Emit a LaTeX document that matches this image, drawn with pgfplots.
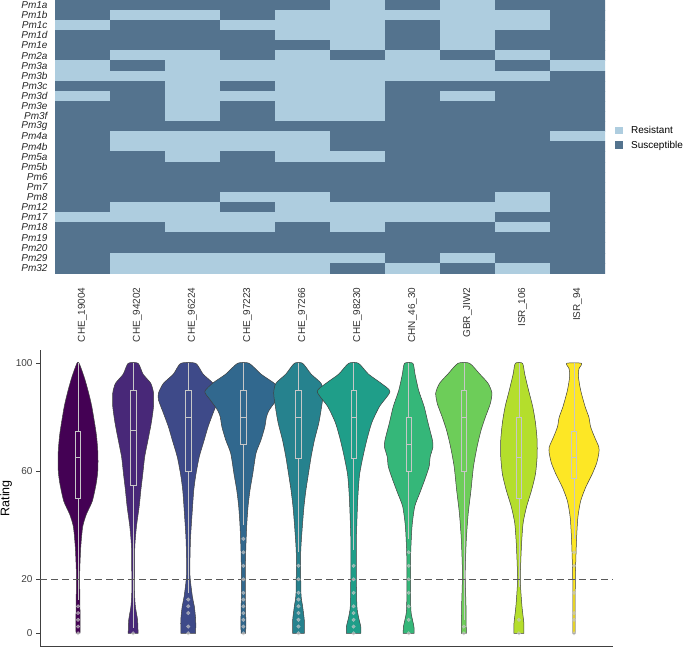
\documentclass[border=0pt]{standalone}
\usepackage{fontspec}
\setmainfont{Liberation Sans}
\setsansfont{Liberation Sans}
\usepackage{pgfplots}
\pgfplotsset{compat=1.18}
\usepackage{pgfplotstable}

\definecolor{res}{RGB}{174,205,223}
\definecolor{sus}{RGB}{84,115,142}
\definecolor{v1}{RGB}{68,1,84}
\definecolor{v2}{RGB}{72,40,120}
\definecolor{v3}{RGB}{62,74,137}
\definecolor{v4}{RGB}{49,104,142}
\definecolor{v5}{RGB}{38,130,142}
\definecolor{v6}{RGB}{31,158,137}
\definecolor{v7}{RGB}{53,183,121}
\definecolor{v8}{RGB}{109,205,89}
\definecolor{v9}{RGB}{180,222,44}
\definecolor{v10}{RGB}{253,231,37}

% violin outlines: rating y, signed half-width d (right side up, left side down)
\pgfplotstableread{
y d
0 0.035
2.5 0.04
10 0.035
22 0.03
32 0.05
39.5 0.085
44 0.15
49 0.26
55.5 0.33
60.5 0.36
67 0.36
74 0.33
84 0.25
90 0.18
95 0.11
100 0.02
100 -0.02
95 -0.11
90 -0.18
84 -0.25
74 -0.33
67 -0.36
60.5 -0.36
55.5 -0.33
49 -0.26
44 -0.15
39.5 -0.085
32 -0.05
22 -0.03
10 -0.035
2.5 -0.04
0 -0.035
}\vA
\pgfplotstableread{
y d
0 0.09
5 0.08
10 0.04
15 0.025
22 0.025
32 0.03
39.5 0.06
47 0.11
53 0.14
59 0.175
65.4 0.21
71.6 0.27
78 0.33
84 0.37
89 0.37
92.6 0.32
96 0.18
100 0.09
100 -0.09
96 -0.18
92.6 -0.32
89 -0.37
84 -0.37
78 -0.33
71.6 -0.27
65.4 -0.21
59 -0.175
53 -0.14
47 -0.11
39.5 -0.06
32 -0.03
22 -0.025
15 -0.025
10 -0.04
5 -0.08
0 -0.09
}\vB
\pgfplotstableread{
y d
0 0.135
5 0.135
10 0.11
13.6 0.075
22 0.03
34.6 0.04
44.4 0.07
53 0.1
59 0.14
65.4 0.2
71.6 0.29
76.5 0.36
81.5 0.45
86.4 0.54
89 0.54
92.6 0.45
96 0.27
100 0.135
100 -0.135
96 -0.27
92.6 -0.45
89 -0.54
86.4 -0.54
81.5 -0.45
76.5 -0.36
71.6 -0.29
65.4 -0.2
59 -0.14
53 -0.1
44.4 -0.07
34.6 -0.04
22 -0.03
13.6 -0.075
10 -0.11
5 -0.135
0 -0.135
}\vC
\pgfplotstableread{
y d
0 0.04
3.7 0.045
16 0.035
28.4 0.04
39.5 0.06
47 0.085
53 0.12
59 0.17
66.7 0.23
71.6 0.32
76.5 0.39
80.2 0.42
82.7 0.47
86.4 0.6
89.5 0.68
92.6 0.56
96 0.32
100 0.105
100 -0.105
96 -0.32
92.6 -0.56
89.5 -0.7
86.4 -0.6
82.7 -0.47
80.2 -0.42
76.5 -0.39
71.6 -0.32
66.7 -0.23
59 -0.17
53 -0.12
47 -0.085
39.5 -0.06
28.4 -0.04
16 -0.035
3.7 -0.045
0 -0.04
}\vD
\pgfplotstableread{
y d
0 0.105
5 0.105
10 0.075
14.8 0.045
29.6 0.04
39.5 0.07
47 0.1
53 0.135
59 0.18
65.4 0.23
71.6 0.29
78 0.37
84 0.42
89 0.45
92.6 0.41
96 0.23
100 0.075
100 -0.075
96 -0.23
92.6 -0.41
89 -0.45
84 -0.42
78 -0.37
71.6 -0.29
65.4 -0.23
59 -0.18
53 -0.135
47 -0.1
39.5 -0.07
29.6 -0.04
14.8 -0.045
10 -0.075
5 -0.105
0 -0.105
}\vE
\pgfplotstableread{
y d
0 0.13
2.5 0.13
6 0.09
10 0.06
22 0.05
34.6 0.05
47 0.07
53 0.085
59 0.11
65.4 0.17
71.6 0.24
78 0.33
84 0.47
89.5 0.66
92.6 0.5
96 0.27
100 0.09
100 -0.09
96 -0.27
92.6 -0.5
89.5 -0.66
84 -0.47
78 -0.33
71.6 -0.24
65.4 -0.17
59 -0.11
53 -0.085
47 -0.07
34.6 -0.05
22 -0.05
10 -0.06
6 -0.09
2.5 -0.13
0 -0.13
}\vF
\pgfplotstableread{
y d
0 0.1
2.5 0.095
7.4 0.045
12.3 0.035
28.4 0.035
39.5 0.06
47 0.11
51.9 0.2
56.8 0.29
61.7 0.37
65.4 0.39
69 0.44
71.6 0.43
78 0.35
84 0.28
90 0.18
96 0.115
100 0.075
100 -0.075
96 -0.115
90 -0.18
84 -0.28
78 -0.35
71.6 -0.43
69 -0.44
65.4 -0.39
61.7 -0.37
56.8 -0.29
51.9 -0.2
47 -0.11
39.5 -0.06
28.4 -0.035
12.3 -0.035
7.4 -0.045
2.5 -0.095
0 -0.1
}\vG
\pgfplotstableread{
y d
0 0.045
10 0.04
22 0.025
34.6 0.045
44.4 0.08
53 0.13
61.7 0.175
69 0.24
75 0.31
80 0.39
85 0.48
89 0.51
92.6 0.44
96 0.29
100 0.105
100 -0.105
96 -0.29
92.6 -0.44
89 -0.51
85 -0.48
80 -0.39
75 -0.31
69 -0.24
61.7 -0.175
53 -0.13
44.4 -0.08
34.6 -0.045
22 -0.025
10 -0.04
0 -0.045
}\vH
\pgfplotstableread{
y d
0 0.09
3.7 0.09
10 0.055
19.8 0.025
32 0.045
40.7 0.075
47 0.14
53 0.23
59 0.3
65.4 0.33
71.6 0.33
78 0.3
84 0.25
90 0.175
96 0.105
100 0.065
100 -0.065
96 -0.105
90 -0.175
84 -0.25
78 -0.3
71.6 -0.33
65.4 -0.33
59 -0.3
53 -0.23
47 -0.14
40.7 -0.075
32 -0.045
19.8 -0.025
10 -0.055
3.7 -0.09
0 -0.09
}\vI
\pgfplotstableread{
y d
0 0.02
10 0.02
22 0.025
34.6 0.045
43 0.07
49 0.12
54 0.21
59 0.33
63 0.41
66.7 0.45
69 0.45
72.8 0.37
76.5 0.3
80 0.27
84 0.2
90 0.12
95 0.08
98 0.09
100 0.135
100 -0.135
98 -0.09
95 -0.08
90 -0.12
84 -0.2
80 -0.27
76.5 -0.3
72.8 -0.37
69 -0.45
66.7 -0.45
63 -0.41
59 -0.33
54 -0.21
49 -0.12
43 -0.07
34.6 -0.045
22 -0.025
10 -0.02
0 -0.02
}\vJ

% center, table, colour
\newcommand{\violin}[3]{%
  \addplot[fill=#3, draw=black!75, line width=0.5pt, smooth, tension=0.4] table[x expr=#1+\thisrow{d}, y=y]{#2} -- cycle;
}
% center, left, right, lower whisker, q1, median, q3, upper whisker, outliers
\newcommand{\bxp}[9]{%
  \addplot[draw=black!22, line width=0.6pt] coordinates {(#2,#5) (#3,#5) (#3,#7) (#2,#7)} -- cycle;
  \addplot[draw=black!22, line width=0.6pt] coordinates {(#1,#4) (#1,#5)};
  \addplot[draw=black!22, line width=0.6pt] coordinates {(#1,#7) (#1,#8)};
  \addplot[draw=black!22, line width=1.2pt] coordinates {(#2,#6) (#3,#6)};
  \addplot[color=black!22, only marks, mark=*, mark size=1.8pt, opacity=0.65] coordinates {#9};
}

\begin{document}
\begin{tikzpicture}
\useasboundingbox (0pt,0pt) rectangle (685pt,-648pt);

% ---------- heatmap ----------
\begin{axis}[
  at={(55pt,-273pt)}, anchor=south west,
  scale only axis, width=550pt, height=273pt,
  xmin=0.5, xmax=10.5, ymin=0.5, ymax=27.5, y dir=reverse,
  enlargelimits=false,
  axis line style={draw=none}, tick style={draw=none},
  colormap={hm}{rgb255=(174,205,223) rgb255=(84,115,142)},
  point meta min=0, point meta max=1,
  xtick={1,...,10},
  xticklabels={CHE\_19004, CHE\_94202, CHE\_96224, CHE\_97223, CHE\_97266, CHE\_98230, CHN\_46\_30, GBR\_JIW2, ISR\_106, ISR\_94},
  xticklabel style={rotate=90, anchor=east, font=\fontsize{10}{12}\selectfont, text=black!80},
  xticklabel shift=11pt,
  ytick={1,...,27},
  yticklabels={Pm1a,Pm1b,Pm1c,Pm1d,Pm1e,Pm2a,Pm3a,Pm3b,Pm3c,Pm3d,Pm3e,Pm3f,Pm3g,Pm4a,Pm4b,Pm5a,Pm5b,Pm6,Pm7,Pm8,Pm12,Pm17,Pm18,Pm19,Pm20,Pm29,Pm32},
  yticklabel style={font=\fontsize{10}{11}\selectfont\itshape, text=black!85, xshift=-4pt},
  legend style={at={(1,0.495)}, anchor=west, draw=none, fill=none, font=\fontsize{10}{12}\selectfont, xshift=7pt, row sep=2pt},
  legend cell align=left,
  legend image code/.code={\fill[#1] (0pt,-3.5pt) rectangle (8pt,4pt); \path (14pt,0pt);},
]
\addplot[matrix plot*, mesh/cols=10, point meta=explicit, forget plot] coordinates {
(1,1)[1] (2,1)[1] (3,1)[1] (4,1)[1] (5,1)[1] (6,1)[0] (7,1)[1] (8,1)[0] (9,1)[1] (10,1)[1]
(1,2)[1] (2,2)[0] (3,2)[0] (4,2)[1] (5,2)[0] (6,2)[0] (7,2)[0] (8,2)[0] (9,2)[0] (10,2)[1]
(1,3)[0] (2,3)[1] (3,3)[1] (4,3)[0] (5,3)[0] (6,3)[0] (7,3)[1] (8,3)[0] (9,3)[0] (10,3)[1]
(1,4)[1] (2,4)[1] (3,4)[1] (4,4)[1] (5,4)[0] (6,4)[0] (7,4)[1] (8,4)[0] (9,4)[1] (10,4)[1]
(1,5)[1] (2,5)[1] (3,5)[1] (4,5)[1] (5,5)[1] (6,5)[0] (7,5)[1] (8,5)[0] (9,5)[1] (10,5)[1]
(1,6)[1] (2,6)[0] (3,6)[0] (4,6)[1] (5,6)[0] (6,6)[1] (7,6)[0] (8,6)[1] (9,6)[0] (10,6)[1]
(1,7)[0] (2,7)[1] (3,7)[0] (4,7)[0] (5,7)[0] (6,7)[0] (7,7)[0] (8,7)[0] (9,7)[1] (10,7)[0]
(1,8)[0] (2,8)[0] (3,8)[0] (4,8)[0] (5,8)[0] (6,8)[0] (7,8)[0] (8,8)[0] (9,8)[0] (10,8)[1]
(1,9)[1] (2,9)[1] (3,9)[0] (4,9)[1] (5,9)[0] (6,9)[0] (7,9)[1] (8,9)[1] (9,9)[1] (10,9)[1]
(1,10)[0] (2,10)[1] (3,10)[0] (4,10)[0] (5,10)[0] (6,10)[0] (7,10)[1] (8,10)[0] (9,10)[1] (10,10)[1]
(1,11)[1] (2,11)[1] (3,11)[0] (4,11)[1] (5,11)[0] (6,11)[0] (7,11)[1] (8,11)[1] (9,11)[1] (10,11)[1]
(1,12)[1] (2,12)[1] (3,12)[0] (4,12)[1] (5,12)[0] (6,12)[0] (7,12)[1] (8,12)[1] (9,12)[1] (10,12)[1]
(1,13)[1] (2,13)[1] (3,13)[1] (4,13)[1] (5,13)[1] (6,13)[1] (7,13)[1] (8,13)[1] (9,13)[1] (10,13)[1]
(1,14)[1] (2,14)[0] (3,14)[0] (4,14)[0] (5,14)[0] (6,14)[1] (7,14)[1] (8,14)[1] (9,14)[1] (10,14)[0]
(1,15)[1] (2,15)[0] (3,15)[0] (4,15)[0] (5,15)[0] (6,15)[1] (7,15)[1] (8,15)[1] (9,15)[1] (10,15)[1]
(1,16)[1] (2,16)[1] (3,16)[0] (4,16)[1] (5,16)[0] (6,16)[0] (7,16)[1] (8,16)[1] (9,16)[1] (10,16)[1]
(1,17)[1] (2,17)[1] (3,17)[1] (4,17)[1] (5,17)[1] (6,17)[1] (7,17)[1] (8,17)[1] (9,17)[1] (10,17)[1]
(1,18)[1] (2,18)[1] (3,18)[1] (4,18)[1] (5,18)[1] (6,18)[1] (7,18)[1] (8,18)[1] (9,18)[1] (10,18)[1]
(1,19)[1] (2,19)[1] (3,19)[1] (4,19)[1] (5,19)[1] (6,19)[1] (7,19)[1] (8,19)[1] (9,19)[1] (10,19)[1]
(1,20)[1] (2,20)[1] (3,20)[1] (4,20)[0] (5,20)[0] (6,20)[1] (7,20)[1] (8,20)[1] (9,20)[0] (10,20)[1]
(1,21)[1] (2,21)[0] (3,21)[0] (4,21)[1] (5,21)[0] (6,21)[0] (7,21)[0] (8,21)[0] (9,21)[0] (10,21)[1]
(1,22)[0] (2,22)[0] (3,22)[0] (4,22)[0] (5,22)[0] (6,22)[0] (7,22)[0] (8,22)[0] (9,22)[1] (10,22)[1]
(1,23)[1] (2,23)[1] (3,23)[0] (4,23)[0] (5,23)[1] (6,23)[0] (7,23)[1] (8,23)[1] (9,23)[0] (10,23)[1]
(1,24)[1] (2,24)[1] (3,24)[1] (4,24)[1] (5,24)[1] (6,24)[1] (7,24)[1] (8,24)[1] (9,24)[1] (10,24)[1]
(1,25)[1] (2,25)[1] (3,25)[1] (4,25)[1] (5,25)[1] (6,25)[1] (7,25)[1] (8,25)[1] (9,25)[1] (10,25)[1]
(1,26)[1] (2,26)[0] (3,26)[0] (4,26)[0] (5,26)[0] (6,26)[0] (7,26)[1] (8,26)[0] (9,26)[1] (10,26)[1]
(1,27)[1] (2,27)[0] (3,27)[0] (4,27)[0] (5,27)[0] (6,27)[1] (7,27)[0] (8,27)[1] (9,27)[0] (10,27)[1]
};
\addlegendimage{fill=res, draw=none}
\addlegendentry{Resistant}
\addlegendimage{fill=sus, draw=none}
\addlegendentry{Susceptible}
\end{axis}

% ---------- violins ----------
\begin{axis}[
  at={(40pt,-646.8pt)}, anchor=south west,
  scale only axis, width=573pt, height=297pt,
  xmin=0.31, xmax=10.707, ymin=-5, ymax=105,
  axis x line*=bottom, axis y line*=left,
  axis line style={black!75, line width=0.8pt},
  xtick=\empty,
  ytick={0,20,60,100},
  tick align=outside, major tick length=4pt,
  tick style={black!75, line width=0.6pt},
  /pgf/number format/assume math mode=true,
  yticklabel style={font=\fontsize{10}{12}\selectfont, text=black!75},
  ylabel={Rating},
  ylabel style={at={(axis description cs:-0.0593,0.5)}, anchor=center, font=\fontsize{12.5}{14}\selectfont, text=black},
]
\violin{1}{\vA}{v1}
\violin{2}{\vB}{v2}
\violin{3}{\vC}{v3}
\violin{4}{\vD}{v4}
\violin{5}{\vE}{v5}
\violin{6}{\vF}{v6}
\violin{7}{\vG}{v7}
\violin{8}{\vH}{v8}
\violin{9}{\vI}{v9}
\violin{10}{\vJ}{v10}

\bxp{1}{0.95}{1.05}{12.5}{50}{65}{75}{100}{(1,0) (1,2.5) (1,5) (1,7.5) (1,10)}
\bxp{2}{1.95}{2.05}{2}{55}{75}{90}{100}{(2,0)}
\bxp{3}{2.95}{3.05}{15}{60}{80}{90}{100}{(3,0) (3,2.5) (3,7.5) (3,10) (3,12.5)}
\bxp{4}{3.95}{4.05}{40}{70}{80}{90}{100}{(4,0) (4,2.5) (4,5) (4,7.5) (4,10) (4,12.5) (4,15) (4,20) (4,25) (4,30) (4,35)}
\bxp{5}{4.95}{5.05}{30}{65}{80}{90}{100}{(5,0) (5,2.5) (5,5) (5,7.5) (5,10) (5,12.5) (5,15) (5,20) (5,25)}
\bxp{6}{5.95}{6.05}{31}{65}{80}{90}{100}{(6,0) (6,2.5) (6,5) (6,7.5) (6,10) (6,15) (6,20) (6,25)}
\bxp{7}{6.95}{7.05}{35}{60}{70}{80}{100}{(7,0) (7,5) (7,10) (7,15) (7,20) (7,25) (7,30)}
\bxp{8}{7.95}{8.05}{5}{60}{80}{90}{100}{(8,0) (8,2.5)}
\bxp{9}{8.95}{9.05}{17}{50}{65}{80}{100}{(9,0) (9,5)}
\bxp{10}{9.95}{10.05}{35}{57.5}{65}{75}{100}{(10,0) (10,5) (10,7.5) (10,15) (10,25) (10,30)}

\addplot[black!65, line width=0.8pt, dash pattern=on 7pt off 4pt] coordinates {(0.31,20) (10.707,20)};
\end{axis}
\end{tikzpicture}
\end{document}
